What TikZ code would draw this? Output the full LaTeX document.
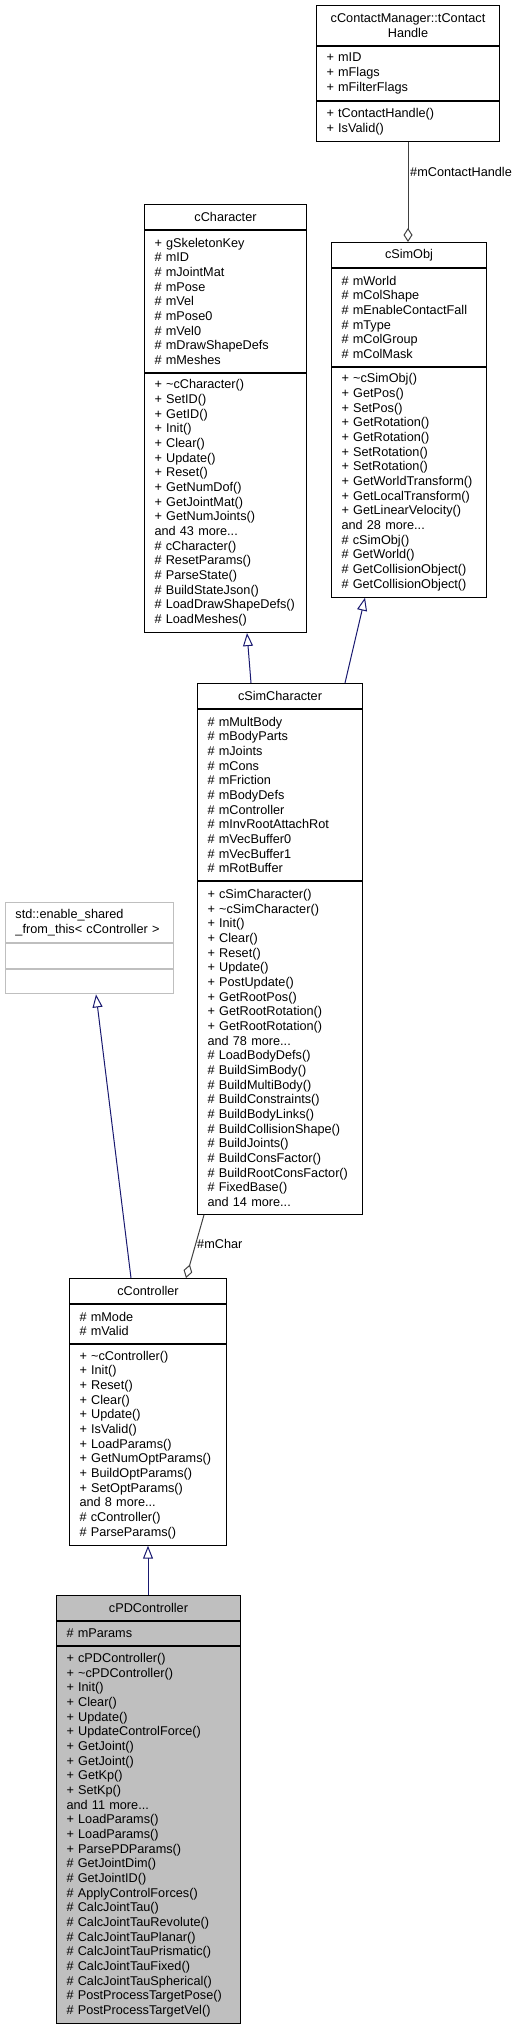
\documentclass[tikz,border=0pt]{standalone}
\usepackage{fontspec}
\setmainfont{Liberation Sans}
\usepackage{xcolor}
\usepackage{tikz}
\usetikzlibrary{arrows.meta}

\definecolor{edgeblue}{RGB}{25,25,112}
\definecolor{edgegray}{RGB}{64,64,64}
\definecolor{boxgray}{RGB}{191,191,191}

\hyphenpenalty=10000
\exhyphenpenalty=10000

\begin{document}
\begin{tikzpicture}[x=1pt, y=-1pt,
    font=\fontsize{12.7}{14.67}\selectfont,
    box/.style={draw=black, line width=1pt, fill=white, inner xsep=10pt, inner ysep=0pt, anchor=north west},
    head/.style={box, align=center},
    body/.style={box, align=left},
    inherit/.style={draw=edgeblue, line width=1pt, -{Triangle[open, length=13pt, width=10pt]}},
    usage/.style={draw=edgegray, line width=1pt, {Diamond[open, length=14pt, width=9pt]}-}]
    \useasboundingbox (0,0) rectangle (521,2029);

    % cContactManager::tContactHandle
    \node[head, minimum width=183, minimum height=40, text width=163] (tchT) at (316,5) {cContactManager::tContact\\Handle};
    \node[body, minimum width=183, minimum height=54, text width=163] (tchA) at (tchT.south west) {+ mID\\+ mFlags\\+ mFilterFlags};
    \node[body, minimum width=183, minimum height=40, text width=163] (tchM) at (tchA.south west) {+ tContactHandle()\\+ IsValid()};

    % cCharacter
    \node[head, minimum width=162, minimum height=24.7, text width=142] (chT) at (144,204) {cCharacter};
    \node[body, minimum width=162, minimum height=142, text width=142] (chA) at (chT.south west)
        {+ gSkeletonKey\\\# mID\\\# mJointMat\\\# mPose\\\# mVel\\\# mPose0\\\# mVel0\\\# mDrawShapeDefs\\\# mMeshes};
    \node[body, minimum width=162, minimum height=259.4, text width=142] (chM) at (chA.south west)
        {+ \textasciitilde cCharacter()\\+ SetID()\\+ GetID()\\+ Init()\\+ Clear()\\+ Update()\\+ Reset()\\+ GetNumDof()\\+ GetJointMat()\\+ GetNumJoints()\\and 43 more...\\\# cCharacter()\\\# ResetParams()\\\# ParseState()\\\# BuildStateJson()\\\# LoadDrawShapeDefs()\\\# LoadMeshes()};

    % cSimObj
    \node[head, minimum width=155, minimum height=24.7, text width=135] (soT) at (331,242) {cSimObj};
    \node[body, minimum width=155, minimum height=98, text width=135] (soA) at (soT.south west)
        {\# mWorld\\\# mColShape\\\# mEnableContactFall\\\# mType\\\# mColGroup\\\# mColMask};
    \node[body, minimum width=155, minimum height=230, text width=135] (soM) at (soA.south west)
        {+ \textasciitilde cSimObj()\\+ GetPos()\\+ SetPos()\\+ GetRotation()\\+ GetRotation()\\+ SetRotation()\\+ SetRotation()\\+ GetWorldTransform()\\+ GetLocalTransform()\\+ GetLinearVelocity()\\and 28 more...\\\# cSimObj()\\\# GetWorld()\\\# GetCollisionObject()\\\# GetCollisionObject()};

    % std::enable_shared_from_this
    \node[body, draw=boxgray, minimum width=168, minimum height=40, text width=148] (stdT) at (5,902) {std::enable\_shared\\\_from\_this< cController >};
    \node[box, draw=boxgray, minimum width=168, minimum height=24.7] (stdA) at (stdT.south west) {};
    \node[box, draw=boxgray, minimum width=168, minimum height=24.7] (stdM) at (stdA.south west) {};

    % cSimCharacter
    \node[head, minimum width=165, minimum height=24.7, text width=145] (cscT) at (197,683) {cSimCharacter};
    \node[body, minimum width=165, minimum height=171.4, text width=145] (cscA) at (cscT.south west)
        {\# mMultBody\\\# mBodyParts\\\# mJoints\\\# mCons\\\# mFriction\\\# mBodyDefs\\\# mController\\\# mInvRootAttachRot\\\# mVecBuffer0\\\# mVecBuffer1\\\# mRotBuffer};
    \node[body, minimum width=165, minimum height=332.7, text width=145] (cscM) at (cscA.south west)
        {+ cSimCharacter()\\+ \textasciitilde cSimCharacter()\\+ Init()\\+ Clear()\\+ Reset()\\+ Update()\\+ PostUpdate()\\+ GetRootPos()\\+ GetRootRotation()\\+ GetRootRotation()\\and 78 more...\\\# LoadBodyDefs()\\\# BuildSimBody()\\\# BuildMultiBody()\\\# BuildConstraints()\\\# BuildBodyLinks()\\\# BuildCollisionShape()\\\# BuildJoints()\\\# BuildConsFactor()\\\# BuildRootConsFactor()\\\# FixedBase()\\and 14 more...};

    % cController
    \node[head, minimum width=157, minimum height=24.7, text width=137] (ctT) at (69,1278) {cController};
    \node[body, minimum width=157, minimum height=39.3, text width=137] (ctA) at (ctT.south west) {\# mMode\\\# mValid};
    \node[body, minimum width=157, minimum height=200.7, text width=137] (ctM) at (ctA.south west)
        {+ \textasciitilde cController()\\+ Init()\\+ Reset()\\+ Clear()\\+ Update()\\+ IsValid()\\+ LoadParams()\\+ GetNumOptParams()\\+ BuildOptParams()\\+ SetOptParams()\\and 8 more...\\\# cController()\\\# ParseParams()};

    % cPDController
    \node[head, fill=boxgray, minimum width=184, minimum height=24.7, text width=164] (pdT) at (56,1595) {cPDController};
    \node[body, fill=boxgray, minimum width=184, minimum height=24.7, text width=164] (pdA) at (pdT.south west) {\# mParams};
    \node[body, fill=boxgray, minimum width=184, minimum height=376.7, text width=164] (pdM) at (pdA.south west)
        {+ cPDController()\\+ \textasciitilde cPDController()\\+ Init()\\+ Clear()\\+ Update()\\+ UpdateControlForce()\\+ GetJoint()\\+ GetJoint()\\+ GetKp()\\+ SetKp()\\and 11 more...\\+ LoadParams()\\+ LoadParams()\\+ ParsePDParams()\\\# GetJointDim()\\\# GetJointID()\\\# ApplyControlForces()\\\# CalcJointTau()\\\# CalcJointTauRevolute()\\\# CalcJointTauPlanar()\\\# CalcJointTauPrismatic()\\\# CalcJointTauFixed()\\\# CalcJointTauSpherical()\\\# PostProcessTargetPose()\\\# PostProcessTargetVel()};

    % connectors
    \draw[usage] ([xshift=77]soT.north west) -- ([xshift=92]tchM.south west);
    \node[anchor=west, inner sep=0pt] (lblHandle) at (410,172) {\#mContactHandle};
    \draw[inherit] ([xshift=54]cscT.north west) -- ([xshift=103]chM.south west);
    \draw[inherit] ([xshift=148]cscT.north west) -- ([xshift=34]soM.south west);
    \draw[usage] ([xshift=117]ctT.north west) -- ([xshift=7]cscM.south west);
    \node[anchor=west, inner sep=0pt] (lblChar) at (197,1244) {\#mChar};
    \draw[inherit] ([xshift=62]ctT.north west) -- ([xshift=91]stdM.south west);
    \draw[inherit] ([xshift=92]pdT.north west) -- ([xshift=79]ctM.south west);
\end{tikzpicture}
\end{document}
